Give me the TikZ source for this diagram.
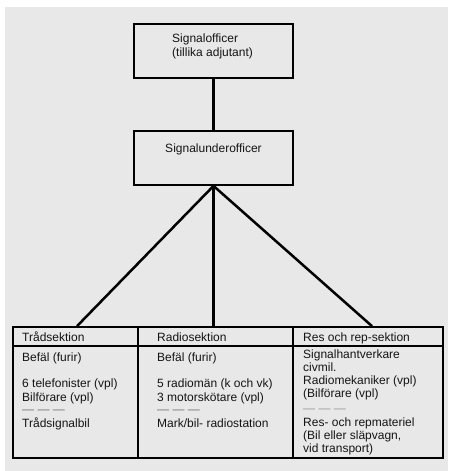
\documentclass[tikz,border=0pt]{standalone}
\usepackage{fontspec}
\setmainfont{Liberation Sans}
\usetikzlibrary{calc}
\begin{document}
\begin{tikzpicture}[x=1pt,y=-1pt,
  box/.style={draw=black,line width=1.8pt,fill=none,inner sep=0pt,minimum width=159pt,minimum height=54pt},
  col/.style={draw=black,line width=1.7pt,inner sep=0pt,minimum height=131pt},
  lbl/.style={inner sep=0pt,font=\fontsize{12}{13.5}\selectfont,text=black!92,align=left},
  cell/.style={lbl,anchor=west,text height=8.6pt,text depth=0pt},
  link/.style={line width=2.5pt,draw=black}]
\useasboundingbox (0,0) rectangle (453,471);
\fill[white] (0,0) rectangle (453,471);
\fill[black!9] (5,7) rectangle (448,471);
% top boxes
\node[box] (so) at (213.5,51) {};
\node[lbl,anchor=west] (sot) at (172,46.5) {Signalofficer\\(tillika adjutant)};
\node[box] (su) at (213.5,158) {};
\node[cell,anchor=center] (sut) at (213.5,148) {Signalunderofficer};
% table columns
\node[col,minimum width=125pt] (c1) at (75.5,392.5) {};
\node[col,minimum width=155pt] (c2) at (215.5,392.5) {};
\node[col,minimum width=150pt] (c3) at (368,392.5) {};
\draw[line width=1.4pt] (c1.north west |- 0,346) coordinate (hl) -- (c3.north east |- 0,346) coordinate (hr);
% connectors
\coordinate (e1) at ($(c1.north)+(1.5,0)$);
\coordinate (e3) at ($(c3.north)+(4,0)$);
\draw[link] (so.south) -- (su.north);
\draw[link] (su.south) -- (e1);
\draw[link] (su.south) -- (c2.north -| su.south);
\draw[link] (su.south) -- (e3);
% column 1
\node[cell] (h1) at (22,337) {Trådsektion};
\node[cell] (a1) at (22,357) {Befäl (furir)};
\node[cell] (a2) at (22,383) {6 telefonister (vpl)};
\node[cell] (a3) at (22,397) {Bilförare (vpl)};
\node[cell,text=black!55] (a4) at (22,409) {— — —};
\node[cell] (a5) at (22,423) {Trådsignalbil};
% column 2
\node[cell] (h2) at (157,337) {Radiosektion};
\node[cell] (b1) at (157,357) {Befäl (furir)};
\node[cell] (b2) at (157,383) {5 radiomän (k och vk)};
\node[cell] (b3) at (157,397) {3 motorskötare (vpl)};
\node[cell,text=black!55] (b4) at (157,409) {— — —};
\node[cell] (b5) at (157,423) {Mark/bil- radiostation};
% column 3
\node[cell] (h3) at (303,337) {Res och rep-sektion};
\node[cell] (d1) at (303,354) {Signalhantverkare};
\node[cell] (d2) at (303,367) {civmil.};
\node[cell] (d3) at (303,380) {Radiomekaniker (vpl)};
\node[cell] (d4) at (303,393) {(Bilförare (vpl)};
\node[cell,text=black!40] (d5) at (303,408) {— — —};
\node[cell] (d6) at (303,422) {Res- och repmateriel};
\node[cell] (d7) at (303,435) {(Bil eller släpvagn,};
\node[cell] (d8) at (303,448) {vid transport)};
\end{tikzpicture}
\end{document}
